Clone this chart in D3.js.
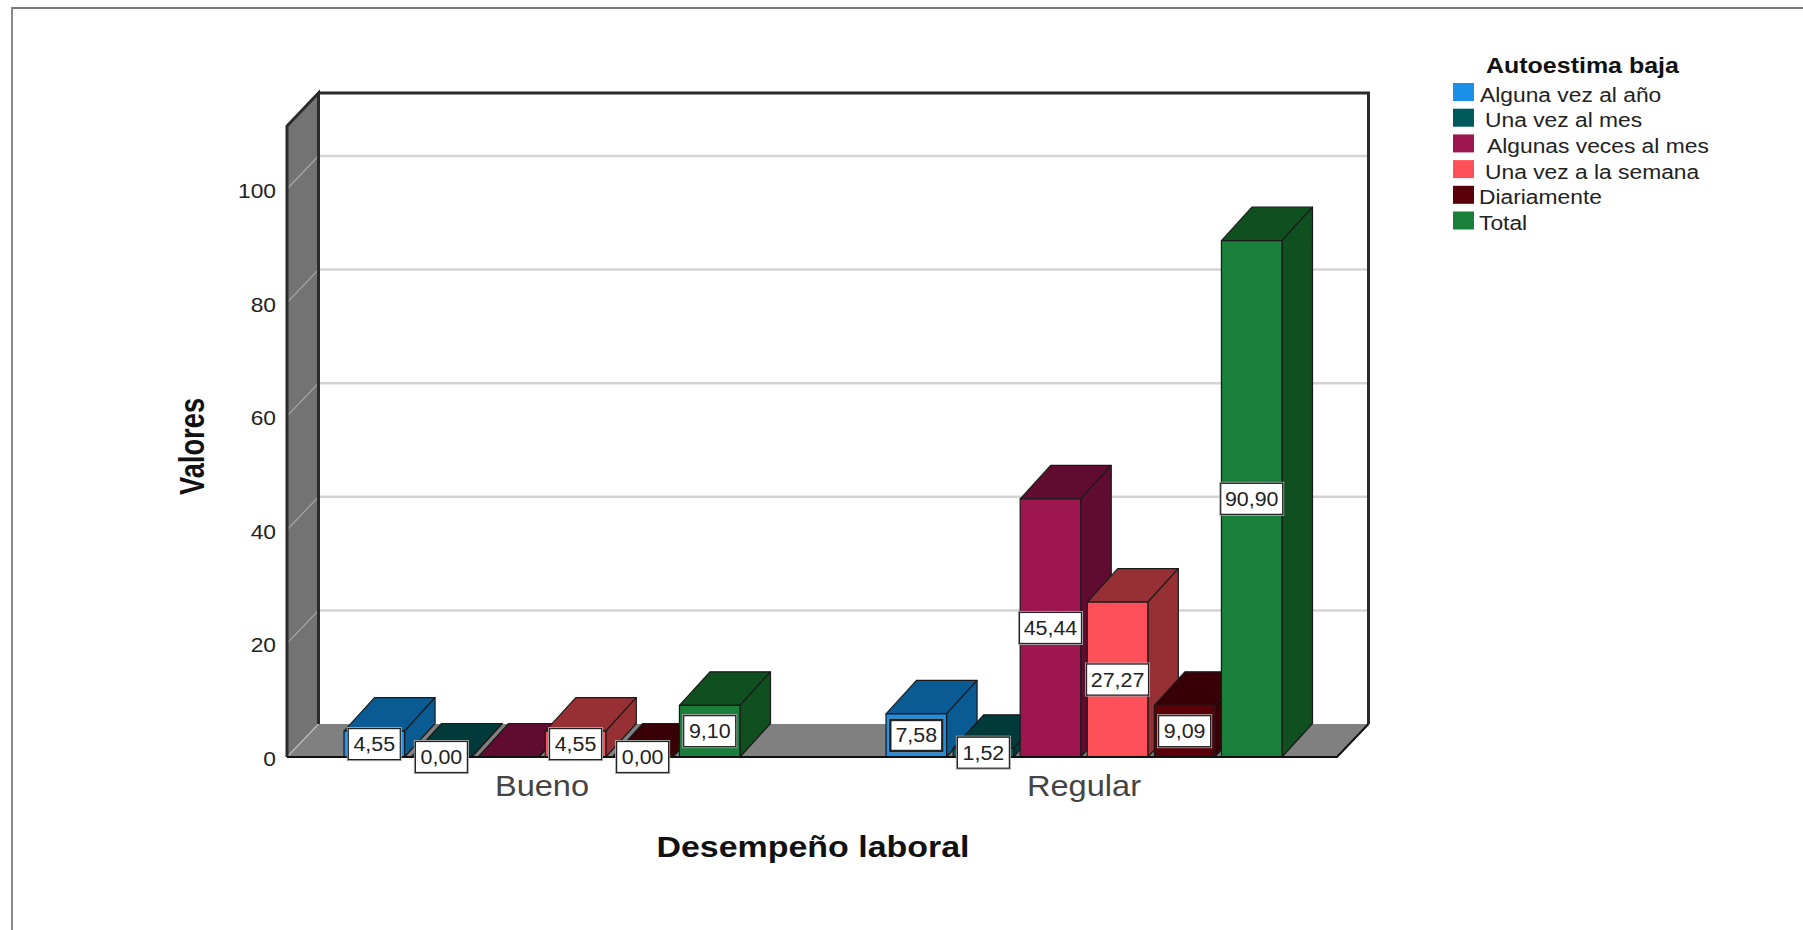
<!DOCTYPE html>
<html><head><meta charset="utf-8">
<script src="https://cdn.jsdelivr.net/npm/d3@7/dist/d3.min.js"></script>
<style>html,body{margin:0;padding:0;background:#fff}svg{display:block}text{font-family:"Liberation Sans",Arial,sans-serif}</style>
</head><body><svg id="c" width="1803" height="930"></svg>
<script>
const categories = ["Bueno", "Regular"];
const seriesNames = ["Alguna vez al año", "Una vez al mes", "Algunas veces al mes", "Una vez a la semana", "Diariamente", "Total"];
const bueno = [4.55, 0.00, 0.00, 4.55, 0.00, 9.10];
const regular = [7.58, 1.52, 45.44, 27.27, 9.09, 90.90];
const labelsBueno = ["4,55", "0,00", "", "4,55", "0,00", "9,10"];
const labelsRegular = ["7,58", "1,52", "45,44", "27,27", "9,09", "90,90"];
const frontColors = ["#1a90e8", "#00595a", "#9e1650", "#ff4f58", "#5a0008", "#1a7f3a"];
const sideColors = ["#0a5a94", "#003a3a", "#600c30", "#973035", "#380006", "#0f4f20"];
const yTicks = [0, 20, 40, 60, 80, 100];
const legendNudge = [0, 5, 7, 5, -1, -1];

const svg = d3.select("#c");
// Horizontally adjust text to the reference's stretched look, keeping it real text.
const stretch = (sel, k) => sel.each(function () {
  const len = this.getComputedTextLength();
  d3.select(this).attr("textLength", len * k).attr("lengthAdjust", "spacingAndGlyphs");
});
const y = d3.scaleLinear().domain([0, 100]).range([757, 189]);
const yTop = 126, left = 287, right = 1337, wallDx = 31.5, wallDy = 33;
const x0 = d3.scaleBand().domain(categories).range([271, 1355]);
const x1 = d3.scaleBand().domain(seriesNames).range([0, 396]).paddingInner(0.097);
const depthX = 30.5, depthY = 33.5;
const poly = pts => pts.map(p => p.join(",")).join(" ");

// frame
svg.append("rect").attr("x", 11).attr("y", 7).attr("width", 1792).attr("height", 2).attr("fill", "#777");
svg.append("rect").attr("x", 11).attr("y", 7).attr("width", 2).attr("height", 923).attr("fill", "#888");

// back wall gridlines
yTicks.filter(d => d > 0).forEach(t => {
  svg.append("line").attr("x1", left + wallDx).attr("x2", right + wallDx)
    .attr("y1", y(t) - wallDy).attr("y2", y(t) - wallDy).attr("stroke", "#d4d4d4").attr("stroke-width", 2.5);
});
// side wall
svg.append("polygon").attr("points", poly([[left, yTop], [left + wallDx, yTop - wallDy], [left + wallDx, y(0) - wallDy], [left, y(0)]])).attr("fill", "#737373");
yTicks.filter(d => d > 0).forEach(t => {
  svg.append("line").attr("x1", left).attr("x2", left + wallDx).attr("y1", y(t)).attr("y2", y(t) - wallDy).attr("stroke", "#a8a8a8").attr("stroke-width", 1.2);
});
// floor
svg.append("polygon").attr("points", poly([[left, y(0)], [left + wallDx, y(0) - wallDy], [right + wallDx, y(0) - wallDy], [right, y(0)]])).attr("fill", "#808080");
svg.append("line").attr("x1", left).attr("x2", left + wallDx).attr("y1", y(0)).attr("y2", y(0) - wallDy).attr("stroke", "#bdbdbd").attr("stroke-width", 1.2);
// edges
svg.append("path").attr("fill", "none").attr("stroke", "#2b2b2b").attr("stroke-width", 3)
  .attr("d", `M${left},${y(0)}V${yTop}L${left + wallDx},${yTop - wallDy}V${y(0) - wallDy}M${left + wallDx},${yTop - wallDy}H${right + wallDx}V${y(0) - wallDy}`);
svg.append("path").attr("fill", "none").attr("stroke", "#111").attr("stroke-width", 2)
  .attr("d", `M${left},${y(0)}H${right}L${right + wallDx},${y(0) - wallDy}`);

// bars
const rows = categories.map((c, i) => ({ c, values: i === 0 ? bueno : regular, labels: i === 0 ? labelsBueno : labelsRegular }));
const groupOffset = x0.bandwidth() / 2 - x1.range()[1] / 2;
const flat = rows.flatMap(r => r.values.map((v, j) => ({ c: r.c, s: seriesNames[j], v, j, label: r.labels[j] })));
const bx = d => x0(d.c) + groupOffset + x1(d.s);
const w = x1.bandwidth();
const bars = svg.append("g").selectAll("g").data(flat).join("g").attr("stroke", "#1a1a1a").attr("stroke-width", 1.2).attr("stroke-linejoin", "round");
bars.append("polygon").attr("fill", d => sideColors[d.j])
  .attr("points", d => poly([[bx(d), y(d.v)], [bx(d) + depthX, y(d.v) - depthY], [bx(d) + w + depthX, y(d.v) - depthY], [bx(d) + w, y(d.v)]]));
bars.append("polygon").attr("fill", d => sideColors[d.j])
  .attr("points", d => poly([[bx(d) + w, y(d.v)], [bx(d) + w + depthX, y(d.v) - depthY], [bx(d) + w + depthX, y(0) - depthY], [bx(d) + w, y(0)]]));
bars.append("rect").attr("fill", d => frontColors[d.j]).attr("x", bx).attr("width", w).attr("y", d => y(d.v)).attr("height", d => y(0) - y(d.v));

// baseline over the bars' feet
svg.append("line").attr("x1", left).attr("x2", right).attr("y1", y(0)).attr("y2", y(0)).attr("stroke", "#111").attr("stroke-width", 2);

// value labels
const lab = svg.append("g").selectAll("g").data(flat.filter(d => d.label)).join("g")
  .attr("transform", d => `translate(${bx(d) + w / 2},${y(d.v / 2)})`);
const lw = d => d.label.length > 4 ? 62 : 52;
lab.append("rect").attr("x", d => -lw(d) / 2 - 1).attr("y", -16.5).attr("width", d => lw(d) + 2).attr("height", 33).attr("fill", "none").attr("stroke", "#aaa").attr("stroke-width", 1);
lab.append("rect").attr("x", d => -lw(d) / 2).attr("y", -15.5).attr("width", lw).attr("height", 31).attr("fill", "#fff").attr("stroke", "#222")
  .attr("stroke-width", d => d.label === "7,58" ? 2.4 : 1.2);
stretch(lab.append("text").attr("text-anchor", "middle").attr("y", 7).attr("font-size", 20).attr("fill", "#222").text(d => d.label), 1.07);

// y axis labels
stretch(svg.append("g").selectAll("text").data(yTicks).join("text")
  .attr("x", 276).attr("y", d => y(d) + 9).attr("text-anchor", "end").attr("font-size", 21).attr("fill", "#222").text(d => d), 1.085);

// category labels
stretch(svg.append("g").selectAll("text").data(categories).join("text")
  .attr("x", d => x0(d) + x0.bandwidth() / 2).attr("y", 796).attr("text-anchor", "middle").attr("font-size", 30).attr("fill", "#444").text(d => d), 1.085);

// titles
stretch(svg.append("text").attr("x", 813).attr("y", 857).attr("text-anchor", "middle").attr("font-size", 29).attr("font-weight", "bold").attr("fill", "#111").text("Desempeño laboral"), 1.17);
stretch(svg.append("text").attr("transform", "translate(204,446.5) rotate(-90)").attr("text-anchor", "middle").attr("font-size", 35).attr("font-weight", "bold").attr("fill", "#111").text("Valores"), 0.78);

// legend
stretch(svg.append("text").attr("x", 1486).attr("y", 73).attr("font-size", 22).attr("font-weight", "bold").attr("fill", "#111").text("Autoestima baja"), 1.135);
const leg = svg.append("g").selectAll("g").data(seriesNames).join("g").attr("transform", (d, i) => `translate(1453,${83 + i * 25.7})`);
leg.append("rect").attr("width", 21).attr("height", 18).attr("fill", (d, i) => frontColors[i]);
stretch(leg.append("text").attr("x", (d, i) => 27 + legendNudge[i]).attr("y", 18.5).attr("font-size", 20).attr("fill", "#222").text(d => d), 1.14);
</script></body></html>
